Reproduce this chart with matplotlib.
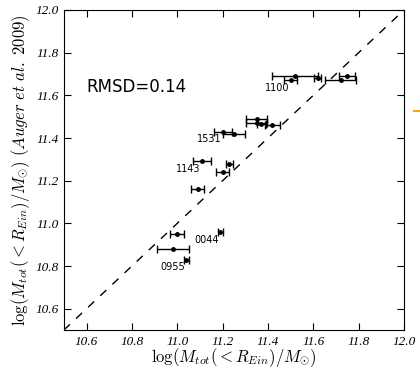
import matplotlib
matplotlib.use("Agg")
import matplotlib.pyplot as plt
from matplotlib.lines import Line2D

plt.rcParams['mathtext.fontset'] = 'cm'

# log M_tot(<R_Ein) from lensing vs. Auger et al. 2009
m_ein = [11.52, 11.50, 11.62, 11.72, 11.75, 11.35, 11.35, 11.37, 11.42,
         11.20, 11.25, 11.11, 11.23, 11.20, 11.09, 11.00, 11.19, 10.98, 11.04]
m_auger = [11.69, 11.67, 11.68, 11.67, 11.69, 11.49, 11.47, 11.465, 11.46,
           11.43, 11.42, 11.29, 11.28, 11.24, 11.16, 10.95, 10.96, 10.88, 10.83]
m_ein_err = [0.10, 0.03, 0.015, 0.07, 0.035, 0.045, 0.045, 0.02, 0.035,
             0.04, 0.05, 0.04, 0.015, 0.03, 0.03, 0.03, 0.01, 0.07, 0.01]

# labelled lenses: (name, index of point)
lens_names = ['1100', '1531', '1143', '0044', '0955']
lens_idx = [1, 9, 11, 16, 18]

rmsd = 0.14
ticks = [10.6, 10.8, 11.0, 11.2, 11.4, 11.6, 11.8, 12.0]

fig = plt.figure(figsize=(4.2, 3.7), dpi=100)
ax = fig.add_axes([0.152, 0.108, 0.81, 0.865])

ax.errorbar(m_ein, m_auger, xerr=m_ein_err, fmt='o', color='black',
            ms=2.5, elinewidth=1.0, capsize=3, capthick=1.0)
ax.plot([10.5, 12.0], [10.5, 12.0], color='black', lw=1.0, dashes=(6, 6))

for name, i in zip(lens_names, lens_idx):
    ax.annotate(name, (m_ein[i], m_auger[i]), xytext=(-1, -2),
                textcoords='offset points', ha='right', va='top', fontsize=7)

ax.text(10.6, 11.64, 'RMSD=%.2f' % rmsd, fontsize=12, va='center')

ax.set_xlim(10.5, 12.0)
ax.set_ylim(10.5, 12.0)
ax.set_xticks(ticks)
ax.set_yticks(ticks)
tick_font = dict(family='Liberation Serif', style='italic', size=9.5)
ax.set_xticklabels(['%.1f' % t for t in ticks], fontdict=tick_font)
ax.set_yticklabels(['%.1f' % t for t in ticks], fontdict=tick_font)
ax.tick_params(direction='in', length=5, top=True, right=True, pad=4)

ax.set_xlabel(r'$\log(M_{tot}(<R_{Ein})/M_{\odot})$', fontsize=12, labelpad=-1)
ax.set_ylabel(r'$\log(M_{tot}(<R_{Ein})/M_{\odot})\ (Auger\ et\ al.\ 2009)$',
              fontsize=12, labelpad=2)

# bit of a neighbouring panel peeking in on the right
fig.add_artist(Line2D([0.986, 1.0], [0.699, 0.699], color='orange', lw=1.5))

fig.savefig('out.png', dpi=100)
